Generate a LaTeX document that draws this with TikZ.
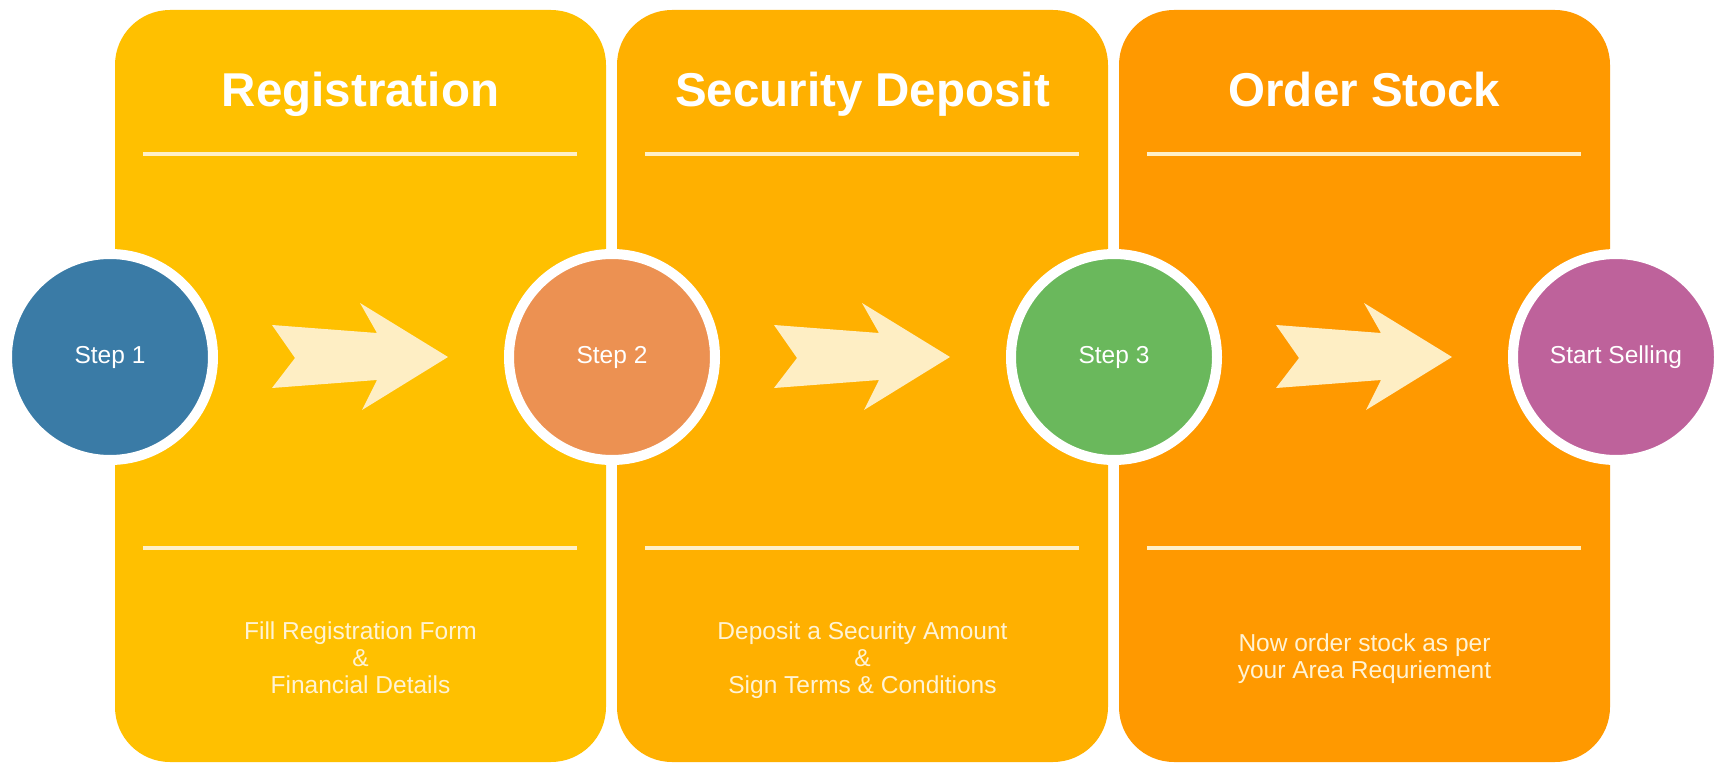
\documentclass[tikz,border=0pt]{standalone}
\usepackage{fontspec}
\setmainfont{Liberation Sans}
\definecolor{panelA}{RGB}{255,192,0}
\definecolor{panelB}{RGB}{255,176,0}
\definecolor{panelC}{RGB}{255,153,0}
\definecolor{cBlue}{RGB}{58,123,166}
\definecolor{cOrange}{RGB}{236,145,82}
\definecolor{cGreen}{RGB}{106,184,92}
\definecolor{cPurple}{RGB}{190,98,155}
\definecolor{cream}{RGB}{255,243,212}
\definecolor{arrowCream}{RGB}{254,238,196}
\definecolor{lineCream}{RGB}{255,240,200}
\begin{document}
\begin{tikzpicture}[x=1pt,y=-1pt,
  panelbox/.style={rectangle, rounded corners=55pt, minimum width=491pt, minimum height=752pt, inner sep=0pt},
  stepcircle/.style={circle, draw=white, line width=10pt, minimum size=206pt, inner sep=0pt, text=white, font=\fontsize{24.5}{28}\selectfont},
  header/.style={text=white, anchor=base, inner sep=0pt, font=\fontsize{47.5}{56}\selectfont\bfseries},
  body/.style={text=cream, align=center, anchor=base, inner sep=0pt, font=\fontsize{24.5}{27}\selectfont},
  sepline/.style={draw=lineCream, line width=3.5pt},
  pics/bigarrow/.style={code={\fill[arrowCream] (-176,-32) -- (-71,-24) -- (-88,-54) -- (0,0) -- (-86,53) -- (-71,23) -- (-176,31) -- (-153,1) -- cycle;}}
]
\useasboundingbox (0,0) rectangle (1725,765);
\fill[white] (0,0) rectangle (1725,765);

% panels
\node[panelbox, fill=panelA] (p1) at (360.5,386) {};
\node[panelbox, fill=panelB] (p2) at (862.5,386) {};
\node[panelbox, fill=panelC] (p3) at (1364.5,386) {};

% separator lines
\foreach \p in {p1,p2,p3}{
  \draw[sepline] ([xshift=28pt]\p.west |- 0,154) -- ([xshift=-29pt]\p.east |- 0,154);
  \draw[sepline] ([xshift=28pt]\p.west |- 0,548) -- ([xshift=-29pt]\p.east |- 0,548);
}

% headers
\node[header] (h1) at (360.5,107) {Registration};
\node[header] (h2) at (862.5,107) {Security Deposit};
\node[header] (h3) at (1364.5,107) {Order Stock};

% body texts (base anchor = last line's baseline)
\node[body] (b1) at (360.5,693) {Fill Registration Form\\\&\\Financial Details};
\node[body] (b2) at (862.5,693) {Deposit a Security Amount\\\&\\Sign Terms \& Conditions};
\node[body] (b3) at (1364.5,678) {Now order stock as per\\your Area Requriement};

% arrows
\pic at (448,357) {bigarrow};
\pic at (950,357) {bigarrow};
\pic at (1452,357) {bigarrow};

% circles
\node[stepcircle, fill=cBlue] (s1) at (110,357) {Step 1};
\node[stepcircle, fill=cOrange] (s2) at (612,357) {Step 2};
\node[stepcircle, fill=cGreen] (s3) at (1114,357) {Step 3};
\node[stepcircle, fill=cPurple] (s4) at (1616,357) {Start Selling};
\end{tikzpicture}
\end{document}
